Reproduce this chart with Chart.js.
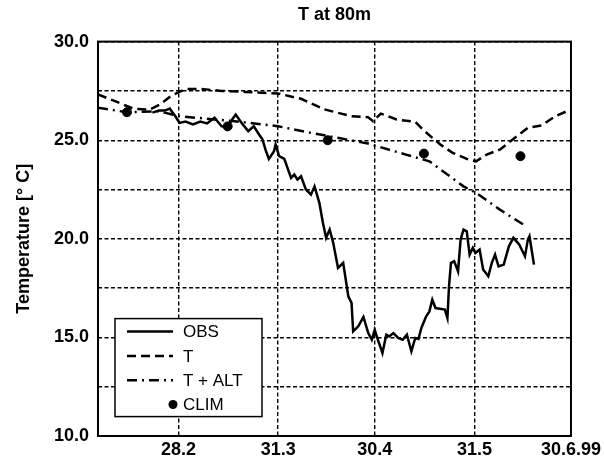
<!DOCTYPE html>
<html>
<head>
<meta charset="utf-8">
<script src="https://cdn.jsdelivr.net/npm/chart.js@4.4.0/dist/chart.umd.min.js"></script>
<style>
html, body { margin: 0; padding: 0; background: #fff; }
#wrap { width: 604px; height: 461px; }
</style>
</head>
<body>
<div id="wrap"><canvas id="myChart"></canvas></div>
<script>
// x values are day of year 1999
var tickDays = [59, 90, 120, 151, 181];
var tickLabels = ["28.2", "31.3", "30.4", "31.5", "30.6.99"];

var obsDays = [50.9, 53.0, 54.8, 56.3, 58.1, 59.3, 61.2, 63.5, 65.8, 67.9, 70.2, 72.4, 74.1, 75.7, 76.8, 79.0, 80.7, 82.4, 84.0, 85.1,
    86.1, 87.1, 88.7, 89.2, 90.3, 91.9, 94.0, 95.0, 96.0, 97.1, 98.6, 100.2, 101.3, 102.8, 103.9,
    104.9, 106.0, 107.1, 108.6, 110.2, 111.8, 112.8, 113.3, 114.9, 116.5, 118.0, 119.1, 120.0, 121.0, 122.4, 123.6, 124.5, 125.8, 127.3, 128.7,
    130.0, 131.4, 132.6, 133.6, 134.5, 136.0, 137.0, 137.9, 138.9, 141.8, 142.6, 143.1, 143.7, 144.7, 145.9, 146.7, 147.6, 148.6, 149.5, 150.5,
    151.3, 152.6, 153.7, 155.3, 156.4, 157.4, 158.5, 160.1, 161.7, 163.1, 164.9, 166.7, 167.6, 168.1, 169.5];
var obsTemp = [26.4, 26.5, 26.5, 26.6, 26.2, 25.88, 25.95, 25.8, 25.95, 25.85, 26.14, 25.71, 25.63, 26.05, 26.3, 25.8, 25.46, 25.71, 25.3, 25.05,
    24.5, 24.05, 24.44, 24.78, 24.19, 24.05, 23.09, 23.26, 23.0, 23.17, 22.5, 22.24, 22.66, 21.82, 20.81,
    20.05, 20.47, 19.8, 18.52, 18.78, 17.08, 16.75, 15.3, 15.56, 16.04, 15.22, 14.88, 15.39, 14.88, 14.21, 15.14, 15.05, 15.22, 14.97, 14.88,
    15.14, 14.29, 14.97, 14.92, 15.48, 16.07, 16.32, 16.91, 16.49, 16.41, 15.98, 17.6, 18.78, 18.86, 18.35, 19.96, 20.47, 20.38, 19.2, 19.54,
    19.28, 19.45, 18.44, 18.1, 18.78, 19.2, 18.6, 18.69, 19.62, 20.05, 19.71, 19.11, 19.96, 20.13, 18.69];

var tDays = [34, 39.3, 45, 50, 53.2, 56.6, 59.3, 61.3, 65.8, 72.4, 79.8, 89.9, 97.1, 104.4, 112.7, 117.9,
    119.5, 121.9, 126.8, 132.6, 135.5, 140.4, 144.2, 148.6, 151.5, 154.8, 159.0, 162.2, 167.6, 171.9, 176.2, 181];
var tTemp = [27.32, 26.98, 26.6, 26.55, 26.8, 27.23, 27.45, 27.6, 27.6, 27.5, 27.45, 27.37, 27.1, 26.56, 26.22, 26.17,
    25.96, 26.35, 26.05, 25.93, 25.46, 24.78, 24.36, 24.05, 23.93, 24.27, 24.53, 24.95, 25.63, 25.75, 26.22, 26.56];

var altDays = [34, 43, 52.9, 59, 76.5, 89.9, 100.2, 108.5, 117.9, 129.7, 137, 147.6, 151.5, 158.9, 167.1];
var altTemp = [26.64, 26.42, 26.47, 26.22, 25.96, 25.71, 25.37, 25.12, 24.83, 24.27, 23.93, 22.66, 22.33, 21.48, 20.63];

var climDays = [43, 74.3, 105.4, 135.3, 165.3];
var climTemp = [26.42, 25.7, 25.0, 24.32, 24.19];

var seriesNames = ["OBS", "T", "T + ALT", "CLIM"];

function toPoints(xs, ys) {
    return xs.map(function(x, i) { return {x: x, y: ys[i]}; });
}

Chart.defaults.font.family = "'Liberation Sans', Arial, Helvetica, sans-serif";
Chart.defaults.color = '#000';

// black frame round the plot
var frame = {
    id: 'frame',
    afterDatasetsDraw: function(chart) {
        var ctx = chart.ctx, a = chart.chartArea;
        ctx.save();
        ctx.strokeStyle = '#000';
        ctx.lineWidth = 2;
        ctx.strokeRect(a.left, a.top, a.right - a.left, a.bottom - a.top);
        ctx.restore();
    }
};

// legend in a box inside the plot
var boxLegend = {
    id: 'boxLegend',
    afterDatasetsDraw: function(chart) {
        var ctx = chart.ctx, a = chart.chartArea;
        var x0 = a.left + 17, y0 = a.top + 277, w = 147, h = 98;
        ctx.save();
        ctx.fillStyle = '#fff';
        ctx.fillRect(x0, y0, w, h);
        ctx.strokeStyle = '#000';
        ctx.lineWidth = 1.5;
        ctx.strokeRect(x0, y0, w, h);
        ctx.font = "17px 'Liberation Sans', Arial, sans-serif";
        ctx.textBaseline = 'middle';
        ctx.fillStyle = '#000';
        chart.data.datasets.forEach(function(ds, i) {
            var y = y0 + 13 + i * 24.3;
            if (ds.showLine === false) {
                ctx.beginPath();
                ctx.arc(x0 + 58, y, 4.5, 0, Math.PI * 2);
                ctx.fill();
            } else {
                ctx.beginPath();
                ctx.setLineDash(ds.borderDash || []);
                ctx.lineWidth = ds.borderWidth;
                ctx.moveTo(x0 + 12, y);
                ctx.lineTo(x0 + 58, y);
                ctx.stroke();
                ctx.setLineDash([]);
            }
            ctx.fillText(ds.label, x0 + 68, y + 1);
        });
        ctx.restore();
    }
};

var gridStyle = { color: '#000', lineWidth: 1.4, drawTicks: false };
var tickFont = { size: 18, weight: 'bold' };

new Chart(document.getElementById('myChart').getContext('2d'), {
    type: 'line',
    data: {
        datasets: [{
            label: seriesNames[0],
            data: toPoints(obsDays, obsTemp),
            borderColor: '#000',
            borderWidth: 2.5,
            pointRadius: 0,
            tension: 0,
            fill: false
        }, {
            label: seriesNames[1],
            data: toPoints(tDays, tTemp),
            borderColor: '#000',
            borderWidth: 2.5,
            borderDash: [9, 5],
            pointRadius: 0,
            tension: 0,
            fill: false
        }, {
            label: seriesNames[2],
            data: toPoints(altDays, altTemp),
            borderColor: '#000',
            borderWidth: 2.5,
            borderDash: [10, 5, 2, 5],
            pointRadius: 0,
            tension: 0,
            fill: false
        }, {
            label: seriesNames[3],
            data: toPoints(climDays, climTemp),
            showLine: false,
            borderColor: '#000',
            backgroundColor: '#000',
            pointRadius: 4.5,
            pointBackgroundColor: '#000'
        }]
    },
    options: {
        responsive: true,
        maintainAspectRatio: false,
        animation: false,
        layout: { padding: { left: 0, right: 32, top: 0, bottom: 0 } },
        plugins: {
            legend: { display: false },
            tooltip: { enabled: false },
            title: {
                display: true,
                text: 'T at 80m',
                fullSize: false,
                color: '#000',
                font: { size: 18, weight: 'bold' },
                padding: { top: 4, bottom: 16 }
            }
        },
        scales: {
            x: {
                type: 'linear',
                min: 34,
                max: 181,
                afterBuildTicks: function(scale) {
                    scale.ticks = tickDays.map(function(v) { return {value: v}; });
                },
                afterFit: function(scale) { scale.height = 25; },
                ticks: {
                    autoSkip: false,
                    maxRotation: 0,
                    padding: 3,
                    color: '#000',
                    font: tickFont,
                    callback: function(v) {
                        var i = tickDays.indexOf(v);
                        return i < 0 ? '' : tickLabels[i];
                    }
                },
                grid: gridStyle,
                border: { display: false, dash: [4, 2.5] }
            },
            y: {
                min: 10,
                max: 30,
                afterFit: function(scale) { scale.width = 98; },
                ticks: {
                    stepSize: 2.5,
                    padding: 9,
                    color: '#000',
                    font: tickFont,
                    callback: function(v) {
                        return v % 5 === 0 ? v.toFixed(1) : '';
                    }
                },
                grid: gridStyle,
                border: { display: false, dash: [4, 2.5] },
                title: {
                    display: true,
                    text: 'Temperature [° C]',
                    color: '#000',
                    font: { size: 18, weight: 'bold' },
                    padding: { top: 13, bottom: 0 }
                }
            }
        }
    },
    plugins: [frame, boxLegend]
});
</script>
</body>
</html>
